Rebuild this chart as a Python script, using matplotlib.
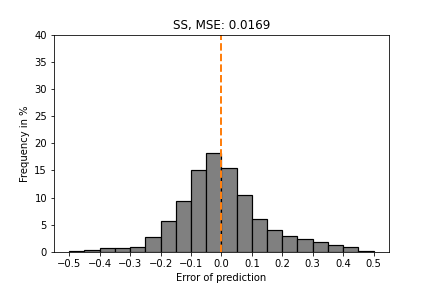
import numpy as np
import matplotlib
matplotlib.use("Agg")
import matplotlib.pyplot as plt

# bin edges of the error histogram (width 0.05)
binEdges = np.round(np.arange(-0.5, 0.5001, 0.05), 2)

# frequency of each bin in %
freqPercent = [0.18, 0.37, 0.68, 0.68, 0.86, 2.7, 5.7, 9.3, 15.05, 18.2,
               15.4, 10.4, 6.1, 4.0, 2.9, 2.33, 1.78, 1.23, 0.86, 0.18]

xTicks = [-0.5, -0.4, -0.3, -0.2, -0.1, 0.0, 0.1, 0.2, 0.3, 0.4, 0.5]

binCenters = (binEdges[:-1] + binEdges[1:]) / 2

fig = plt.figure(figsize=(6, 4), dpi=72)
ax = fig.add_axes([0.125, 0.125, 0.775, 0.755])

ax.hist(binCenters, bins=binEdges, weights=freqPercent,
        color="grey", edgecolor="black", linewidth=1.2)
ax.axvline(0, color="C1", linestyle="--", linewidth=2)

ax.set_ylim(0, 40)
ax.set_xticks(xTicks)
ax.set_xlabel("Error of prediction")
ax.set_ylabel("Frequency in %")
ax.set_title("SS, MSE: 0.0169")

fig.savefig("out.png", dpi=72)
